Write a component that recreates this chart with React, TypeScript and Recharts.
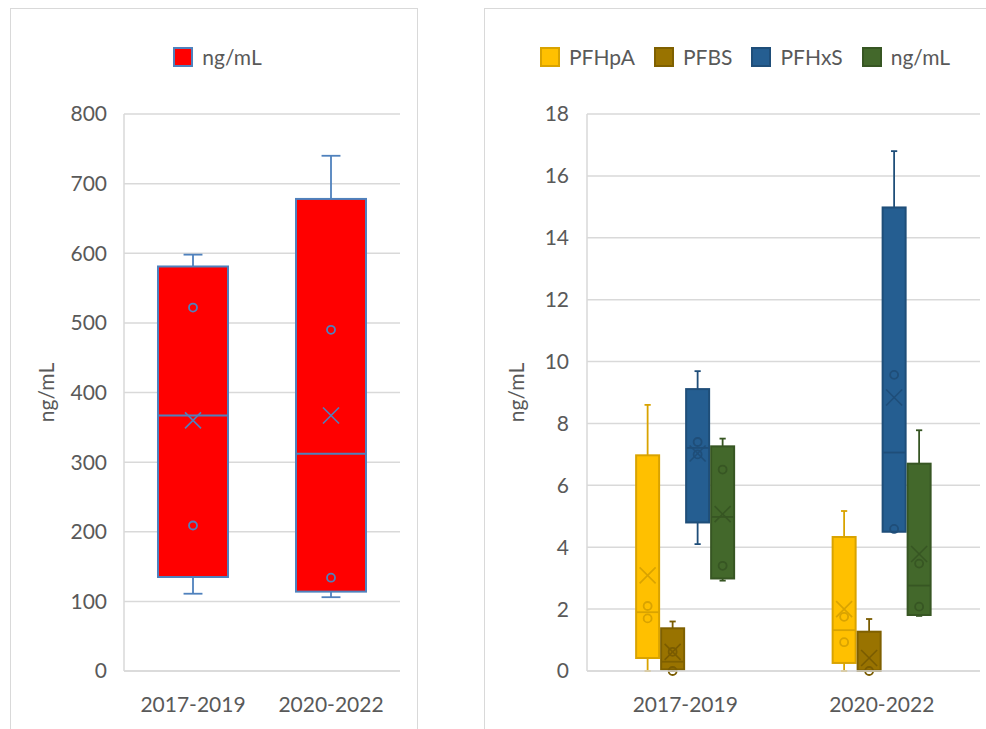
import React from 'react';
import { ComposedChart, Bar, XAxis, YAxis, CartesianGrid, Legend } from 'recharts';

const categories = ['2017-2019', '2020-2022'];

// left panel (one series)
const totalMin = [111, 106];
const totalQ1 = [135, 114];
const totalMedian = [367, 312];
const totalQ3 = [581, 678];
const totalMax = [598, 740];
const totalMean = [360, 367];
const totalPoints = [[522, 209], [490, 134]];
const leftTicks = [0, 100, 200, 300, 400, 500, 600, 700, 800];

// right panel (four series)
const seriesNames = ['PFHpA', 'PFBS', 'PFHxS', 'ng/mL'];
const seriesKeys = ['pfhpa', 'pfbs', 'pfhxs', 'ngml'];

const pfhpaMin = [0, 0];
const pfhpaQ1 = [0.42, 0.26];
const pfhpaMedian = [1.9, 1.32];
const pfhpaQ3 = [6.97, 4.33];
const pfhpaMax = [8.6, 5.17];
const pfhpaMean = [3.09, 2.0];
const pfhpaPoints = [[2.1, 1.7], [1.75, 0.93]];

const pfbsMin = [0, 0];
const pfbsQ1 = [0.05, 0];
const pfbsMedian = [0.3, 0.02];
const pfbsQ3 = [1.38, 1.27];
const pfbsMax = [1.6, 1.68];
const pfbsMean = [0.62, 0.42];
const pfbsPoints = [[0.62, 0], [0]];

const pfhxsMin = [4.1, 4.5];
const pfhxsQ1 = [4.8, 4.5];
const pfhxsMedian = [7.21, 7.06];
const pfhxsQ3 = [9.11, 14.98];
const pfhxsMax = [9.69, 16.8];
const pfhxsMean = [7.03, 8.84];
const pfhxsPoints = [[7.4, 7.0], [9.57, 4.59]];

const ngmlMin = [2.92, 1.78];
const ngmlQ1 = [2.99, 1.81];
const ngmlMedian = [4.98, 2.76];
const ngmlQ3 = [7.26, 6.7];
const ngmlMax = [7.51, 7.78];
const ngmlMean = [5.07, 3.78];
const ngmlPoints = [[6.51, 3.4], [3.47, 2.08]];

const rightTicks = [0, 2, 4, 6, 8, 10, 12, 14, 16, 18];

const FONT = "Lato, 'Liberation Sans', sans-serif";
const TEXT = '#595959';
const GRID = '#d9d9d9';

type Stats = { min: number; q1: number; median: number; q3: number; max: number; mean: number; points: number[] };

const stats = (min: number[], q1: number[], median: number[], q3: number[], max: number[], mean: number[], points: number[][], i: number): Stats => ({
  min: min[i], q1: q1[i], median: median[i], q3: q3[i], max: max[i], mean: mean[i], points: points[i],
});

const leftData = categories.map((name, i) => {
  const s = stats(totalMin, totalQ1, totalMedian, totalQ3, totalMax, totalMean, totalPoints, i);
  return { name, total: [s.q1, s.q3], totalStats: s };
});

const rightData = categories.map((name, i) => {
  const all = [
    stats(pfhpaMin, pfhpaQ1, pfhpaMedian, pfhpaQ3, pfhpaMax, pfhpaMean, pfhpaPoints, i),
    stats(pfbsMin, pfbsQ1, pfbsMedian, pfbsQ3, pfbsMax, pfbsMean, pfbsPoints, i),
    stats(pfhxsMin, pfhxsQ1, pfhxsMedian, pfhxsQ3, pfhxsMax, pfhxsMean, pfhxsPoints, i),
    stats(ngmlMin, ngmlQ1, ngmlMedian, ngmlQ3, ngmlMax, ngmlMean, ngmlPoints, i),
  ];
  const row: any = { name };
  seriesKeys.forEach((k, j) => {
    row[k] = [all[j].q1, all[j].q3];
    row[k + 'Stats'] = all[j];
  });
  return row;
});

const leftColors = { fill: '#FF0000', stroke: '#4F81BD', mark: '#4F81BD' };
const rightColors = [
  { fill: '#FFC000', stroke: '#D9A300', mark: '#D9A300' },
  { fill: '#997300', stroke: '#7F6000', mark: '#7A5C00' },
  { fill: '#255E91', stroke: '#1F4E79', mark: '#1F4E79' },
  { fill: '#43682B', stroke: '#375623', mark: '#375623' },
];

// box + whiskers + mean + inner points, using the bar's own scaling
const BoxShape = (props: any) => {
  const { x, y, width, height, payload, statsKey, colors } = props;
  const s: Stats = payload[statsKey];
  const top = Math.min(y, y + height);
  const h = Math.abs(height);
  const k = h / (s.q3 - s.q1);
  const toY = (v: number) => top + (s.q3 - v) * k;
  const cx = x + width / 2;
  const cap = width * 0.27;
  const m = 8;
  const my = toY(s.mean);
  return (
    <g>
      <line x1={cx} x2={cx} y1={toY(s.max)} y2={toY(s.q3)} stroke={colors.mark} strokeWidth={1.8} />
      <line x1={cx} x2={cx} y1={toY(s.q1)} y2={toY(s.min)} stroke={colors.mark} strokeWidth={1.8} />
      <line x1={cx - cap / 2} x2={cx + cap / 2} y1={toY(s.max)} y2={toY(s.max)} stroke={colors.mark} strokeWidth={1.8} />
      <line x1={cx - cap / 2} x2={cx + cap / 2} y1={toY(s.min)} y2={toY(s.min)} stroke={colors.mark} strokeWidth={1.8} />
      <rect x={x} y={top} width={width} height={h} fill={colors.fill} stroke={colors.stroke} strokeWidth={2} />
      <line x1={x} x2={x + width} y1={toY(s.median)} y2={toY(s.median)} stroke={colors.stroke} strokeWidth={1.8} />
      {s.points.map((p, i) => (
        <circle key={i} cx={cx} cy={toY(p)} r={4} fill="none" stroke={colors.mark} strokeWidth={1.8} />
      ))}
      <line x1={cx - m} x2={cx + m} y1={my - m} y2={my + m} stroke={colors.mark} strokeWidth={1.6} />
      <line x1={cx - m} x2={cx + m} y1={my + m} y2={my - m} stroke={colors.mark} strokeWidth={1.6} />
    </g>
  );
};

const LegendBox = ({ items, padLeft }: { items: { name: string; fill: string; stroke: string }[]; padLeft: number }) => (
  <div
    style={{
      height: 106,
      boxSizing: 'border-box',
      paddingTop: 39,
      paddingLeft: padLeft,
      display: 'flex',
      justifyContent: 'center',
      alignItems: 'flex-start',
      fontFamily: FONT,
      fontSize: 21,
      color: TEXT,
    }}
  >
    {items.map((it, i) => (
      <div key={i} style={{ display: 'flex', alignItems: 'center', height: 20, marginRight: i < items.length - 1 ? 19 : 0 }}>
        <span
          style={{
            width: 20,
            height: 20,
            boxSizing: 'border-box',
            background: it.fill,
            border: `2px solid ${it.stroke}`,
            marginRight: 9,
            display: 'inline-block',
          }}
        />
        <span style={{ lineHeight: '20px' }}>{it.name}</span>
      </div>
    ))}
  </div>
);

const AxisTitle = (props: any) => {
  const { viewBox, dx } = props;
  const cx = viewBox.x + dx;
  const cy = viewBox.y + viewBox.height / 2;
  return (
    <text x={cx} y={cy} transform={`rotate(-90 ${cx} ${cy})`} textAnchor="middle" dominantBaseline="central" fill={TEXT} fontSize={21} fontFamily={FONT}>
      ng/mL
    </text>
  );
};

const tickStyle = { fill: TEXT, fontSize: 21, fontFamily: FONT };

const App: React.FC = () => {
  return (
    <div style={{ position: 'absolute', left: 0, top: 0, width: 986, height: 729, overflow: 'hidden', background: '#fff', fontFamily: FONT }}>
      <div style={{ position: 'absolute', left: 10, top: 8, width: 408, height: 760, border: `1.5px solid ${GRID}`, boxSizing: 'border-box' }} />
      <div style={{ position: 'absolute', left: 484, top: 8, width: 560, height: 760, border: `1.5px solid ${GRID}`, boxSizing: 'border-box' }} />

      <div style={{ position: 'absolute', left: 10, top: 8 }}>
        <ComposedChart width={408} height={721} data={leftData} margin={{ top: 0, right: 18, bottom: 0, left: 0 }} barCategoryGap={34}>
          <CartesianGrid vertical={false} stroke={GRID} strokeWidth={1.5} />
          <XAxis dataKey="name" tickLine={false} tickSize={0} tickMargin={26} axisLine={{ stroke: GRID, strokeWidth: 1.5 }} height={58} tick={tickStyle} />
          <YAxis
            width={114}
            domain={[0, 800]}
            ticks={leftTicks}
            interval={0}
            tickLine={false}
            tickSize={0}
            tickMargin={17}
            axisLine={{ stroke: GRID, strokeWidth: 1.5 }}
            tick={tickStyle}
            label={<AxisTitle dx={35} />}
          />
          <Legend
            verticalAlign="top"
            content={() => <LegendBox items={[{ name: 'ng/mL', fill: leftColors.fill, stroke: leftColors.stroke }]} padLeft={25} />}
          />
          <Bar
            dataKey="total"
            name="ng/mL"
            fill={leftColors.fill}
            isAnimationActive={false}
            shape={(p: any) => <BoxShape {...p} statsKey="totalStats" colors={leftColors} />}
          />
        </ComposedChart>
      </div>

      <div style={{ position: 'absolute', left: 484, top: 8 }}>
        <ComposedChart width={520} height={721} data={rightData} margin={{ top: 0, right: 24, bottom: 0, left: 0 }} barCategoryGap="25%" barGap={2}>
          <CartesianGrid vertical={false} stroke={GRID} strokeWidth={1.5} />
          <XAxis dataKey="name" tickLine={false} tickSize={0} tickMargin={26} axisLine={{ stroke: GRID, strokeWidth: 1.5 }} height={58} tick={tickStyle} />
          <YAxis
            width={103}
            domain={[0, 18]}
            ticks={rightTicks}
            interval={0}
            tickLine={false}
            tickSize={0}
            tickMargin={18}
            axisLine={{ stroke: GRID, strokeWidth: 1.5 }}
            tick={tickStyle}
            label={<AxisTitle dx={31} />}
          />
          <Legend
            verticalAlign="top"
            content={() => (
              <LegendBox
                items={seriesNames.map((n, j) => ({ name: n, fill: rightColors[j].fill, stroke: rightColors[j].stroke }))}
                padLeft={26}
              />
            )}
          />
          {seriesKeys.map((k, j) => (
            <Bar
              key={k}
              dataKey={k}
              name={seriesNames[j]}
              fill={rightColors[j].fill}
              isAnimationActive={false}
              shape={(p: any) => <BoxShape {...p} statsKey={k + 'Stats'} colors={rightColors[j]} />}
            />
          ))}
        </ComposedChart>
      </div>
    </div>
  );
};

export default App;
